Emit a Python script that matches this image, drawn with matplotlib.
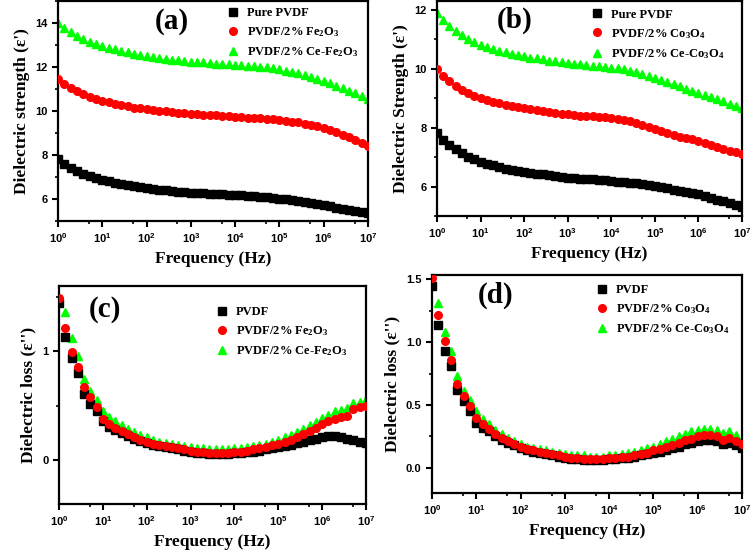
import numpy as np
import matplotlib
matplotlib.use('Agg')
import matplotlib.pyplot as plt
from matplotlib.ticker import LogLocator, MultipleLocator, FormatStrFormatter

# measurement sweep: 7 points per decade, 1 Hz .. 10 MHz
freq = np.logspace(0, 7, 50)

# (a) dielectric strength, Fe2O3 series
a_pvdf = [7.80, 7.58, 7.42, 7.28, 7.15, 7.05, 6.95, 6.87,
          6.80, 6.74, 6.68, 6.63, 6.58, 6.54, 6.50,
          6.46, 6.43, 6.40, 6.37, 6.34, 6.31, 6.28,
          6.27, 6.25, 6.24, 6.22, 6.21, 6.19, 6.17,
          6.16, 6.14, 6.12, 6.10, 6.08, 6.05, 6.02,
          5.99, 5.96, 5.92, 5.88, 5.83, 5.78, 5.72,
          5.66, 5.61, 5.56, 5.51, 5.46, 5.41, 5.36]
a_fe = [11.45, 11.22, 11.05, 10.90, 10.77, 10.65, 10.55, 10.46,
        10.39, 10.32, 10.26, 10.21, 10.16, 10.12, 10.08,
        10.05, 10.02, 9.99, 9.96, 9.93, 9.91, 9.88,
        9.86, 9.84, 9.82, 9.80, 9.78, 9.76, 9.74,
        9.72, 9.70, 9.68, 9.66, 9.64, 9.62, 9.59,
        9.56, 9.52, 9.48, 9.43, 9.38, 9.31, 9.24,
        9.14, 9.03, 8.92, 8.80, 8.67, 8.54, 8.40]
a_cefe = [14.00, 13.78, 13.58, 13.42, 13.28, 13.16, 13.06, 12.97,
          12.88, 12.80, 12.73, 12.67, 12.61, 12.55, 12.50,
          12.46, 12.42, 12.38, 12.34, 12.31, 12.28, 12.25,
          12.23, 12.21, 12.19, 12.16, 12.14, 12.12, 12.10,
          12.08, 12.06, 12.04, 12.01, 11.98, 11.94, 11.90,
          11.84, 11.78, 11.71, 11.64, 11.56, 11.47, 11.37,
          11.26, 11.15, 11.03, 10.92, 10.80, 10.68, 10.56]

# (b) dielectric strength, Co3O4 series
b_pvdf = [7.83, 7.58, 7.40, 7.26, 7.13, 7.02, 6.93, 6.85,
          6.78, 6.72, 6.66, 6.61, 6.57, 6.53, 6.50,
          6.47, 6.44, 6.41, 6.38, 6.35, 6.32, 6.30,
          6.28, 6.27, 6.25, 6.24, 6.22, 6.21, 6.19,
          6.17, 6.15, 6.13, 6.11, 6.09, 6.06, 6.02,
          5.98, 5.94, 5.90, 5.86, 5.82, 5.78, 5.74,
          5.68, 5.62, 5.56, 5.50, 5.44, 5.38, 5.32]
b_co = [10.00, 9.77, 9.57, 9.42, 9.29, 9.18, 9.09, 9.01,
        8.94, 8.88, 8.83, 8.78, 8.74, 8.70, 8.67,
        8.63, 8.60, 8.57, 8.54, 8.51, 8.48, 8.45,
        8.43, 8.41, 8.40, 8.38, 8.36, 8.35, 8.33,
        8.30, 8.27, 8.22, 8.15, 8.08, 8.01, 7.94,
        7.88, 7.82, 7.76, 7.70, 7.65, 7.60, 7.54,
        7.48, 7.42, 7.35, 7.29, 7.22, 7.16, 7.09]
b_ceco = [11.88, 11.64, 11.45, 11.29, 11.15, 11.02, 10.91, 10.81,
          10.74, 10.67, 10.61, 10.56, 10.51, 10.46, 10.42,
          10.38, 10.35, 10.32, 10.28, 10.25, 10.22, 10.19,
          10.17, 10.15, 10.12, 10.10, 10.08, 10.05, 10.03,
          10.01, 9.98, 9.94, 9.88, 9.82, 9.75, 9.69,
          9.62, 9.55, 9.48, 9.40, 9.33, 9.26, 9.18,
          9.11, 9.04, 8.96, 8.89, 8.82, 8.74, 8.67]

# (c) dielectric loss, Fe2O3 series
c_pvdf = [1.44, 1.13, 0.94, 0.80, 0.61, 0.52, 0.45, 0.36,
          0.31, 0.28, 0.25, 0.22, 0.20, 0.18, 0.16,
          0.14, 0.13, 0.12, 0.11, 0.10, 0.09, 0.08,
          0.07, 0.07, 0.06, 0.06, 0.06, 0.06, 0.07,
          0.07, 0.08, 0.08, 0.09, 0.10, 0.11, 0.12,
          0.13, 0.14, 0.16, 0.17, 0.19, 0.20, 0.21,
          0.22, 0.22, 0.21, 0.20, 0.19, 0.17, 0.16]
c_fe = [1.49, 1.21, 0.99, 0.86, 0.67, 0.58, 0.49, 0.38,
        0.33, 0.30, 0.27, 0.24, 0.21, 0.19, 0.17,
        0.15, 0.14, 0.13, 0.12, 0.11, 0.10, 0.09,
        0.08, 0.08, 0.07, 0.07, 0.07, 0.07, 0.08,
        0.08, 0.09, 0.10, 0.11, 0.12, 0.14, 0.15,
        0.17, 0.19, 0.21, 0.24, 0.27, 0.30, 0.33,
        0.36, 0.38, 0.40, 0.41, 0.47, 0.49, 0.50]
c_cefe = [1.46, 1.36, 1.12, 0.96, 0.75, 0.64, 0.55, 0.45,
          0.40, 0.36, 0.32, 0.29, 0.26, 0.23, 0.21,
          0.19, 0.17, 0.16, 0.15, 0.14, 0.13, 0.12,
          0.11, 0.11, 0.10, 0.10, 0.10, 0.10, 0.11,
          0.11, 0.12, 0.13, 0.14, 0.15, 0.17, 0.19,
          0.21, 0.23, 0.26, 0.29, 0.32, 0.35, 0.39,
          0.42, 0.45, 0.46, 0.48, 0.53, 0.54, 0.56]

# (d) dielectric loss, Co3O4 series
d_pvdf = [1.45, 1.14, 0.93, 0.81, 0.62, 0.53, 0.45, 0.36,
          0.32, 0.29, 0.25, 0.22, 0.20, 0.18, 0.16,
          0.14, 0.13, 0.12, 0.11, 0.10, 0.09, 0.08,
          0.07, 0.07, 0.06, 0.06, 0.06, 0.06, 0.07,
          0.07, 0.08, 0.08, 0.09, 0.10, 0.11, 0.12,
          0.13, 0.14, 0.16, 0.17, 0.19, 0.20, 0.21,
          0.22, 0.22, 0.21, 0.19, 0.20, 0.18, 0.16]
d_co = [1.51, 1.22, 1.01, 0.86, 0.67, 0.57, 0.49, 0.40,
        0.35, 0.31, 0.27, 0.24, 0.21, 0.19, 0.17,
        0.15, 0.14, 0.13, 0.12, 0.11, 0.10, 0.09,
        0.08, 0.08, 0.07, 0.07, 0.07, 0.07, 0.08,
        0.08, 0.09, 0.09, 0.10, 0.11, 0.12, 0.14,
        0.15, 0.17, 0.18, 0.20, 0.22, 0.23, 0.25,
        0.26, 0.26, 0.25, 0.22, 0.24, 0.21, 0.19]
d_ceco = [1.48, 1.31, 1.08, 0.93, 0.73, 0.61, 0.54, 0.45,
          0.39, 0.35, 0.30, 0.27, 0.24, 0.21, 0.19,
          0.17, 0.16, 0.15, 0.14, 0.13, 0.12, 0.11,
          0.10, 0.10, 0.10, 0.09, 0.09, 0.09, 0.10,
          0.10, 0.11, 0.12, 0.13, 0.14, 0.16, 0.17,
          0.19, 0.21, 0.23, 0.25, 0.27, 0.29, 0.30,
          0.31, 0.31, 0.30, 0.28, 0.29, 0.26, 0.23]

labels_a = ['Pure PVDF', 'PVDF/2% Fe$_2$O$_3$', 'PVDF/2% Ce-Fe$_2$O$_3$']
labels_b = ['Pure PVDF', 'PVDF/2% Co$_3$O$_4$', 'PVDF/2% Ce-Co$_3$O$_4$']
labels_c = ['PVDF', 'PVDF/2% Fe$_2$O$_3$', 'PVDF/2% Ce-Fe$_2$O$_3$']
labels_d = ['PVDF', 'PVDF/2% Co$_3$O$_4$', 'PVDF/2% Ce-Co$_3$O$_4$']

SERIF = 'Liberation Serif'
SANS = 'Liberation Sans'


def style_axis(ax, ylim, ymajor, yfmt):
    ax.set_xscale('log')
    ax.set_xlim(1, 1e7)
    ax.set_ylim(*ylim)
    ax.xaxis.set_major_locator(LogLocator(base=10, numticks=10))
    ax.xaxis.set_minor_locator(LogLocator(base=10, subs=[5], numticks=10))
    ax.yaxis.set_major_locator(MultipleLocator(ymajor))
    ax.yaxis.set_minor_locator(MultipleLocator(ymajor / 2))
    ax.yaxis.set_major_formatter(FormatStrFormatter(yfmt))
    for s in ax.spines.values():
        s.set_linewidth(1.6)
    ax.tick_params(which='major', direction='out', length=4, width=1.5,
                   labelsize=8, top=False, right=False)
    ax.tick_params(which='minor', direction='out', length=2.5, width=1.2,
                   top=False, right=False)
    for lab in ax.get_xticklabels() + ax.get_yticklabels():
        lab.set_fontfamily(SANS)
        lab.set_fontweight('bold')


def draw_panel(fig, rect, ys, labels, ylim, ymajor, yfmt, ylabel, tag, tagpos, legpos):
    ax = fig.add_axes(rect)
    h1, = ax.plot(freq, ys[0], 's', color='black', ms=5.2, zorder=3, label=labels[0])
    h2, = ax.plot(freq, ys[1], 'o', color='#ff0000', ms=5.5, zorder=4, label=labels[1])
    h3, = ax.plot(freq, ys[2], '^', color='#00ff00', ms=6, zorder=2, label=labels[2])
    style_axis(ax, ylim, ymajor, yfmt)
    ax.set_xlabel('Frequency (Hz)', fontsize=12.5, fontweight='bold', family=SERIF)
    ax.set_ylabel(ylabel, fontsize=12.5, fontweight='bold', family=SERIF)
    ax.text(tagpos[0], tagpos[1], tag, transform=ax.transAxes, ha='center', va='center',
            fontsize=21, fontweight='bold', family=SERIF)
    ax.legend(handles=[h1, h2, h3], loc='upper left', bbox_to_anchor=legpos,
              frameon=False, borderaxespad=0, borderpad=0, handlelength=1.0,
              handletextpad=0.6, labelspacing=0.5,
              prop={'family': SERIF, 'weight': 'bold', 'size': 9})
    return ax


def main():
    plt.rcParams['mathtext.default'] = 'regular'
    fig = plt.figure(figsize=(7.5, 5.54), dpi=100)

    draw_panel(fig, [0.0773, 0.6011, 0.4133, 0.397], [a_pvdf, a_fe, a_cefe], labels_a,
               (5, 15), 2, '%d', "Dielectric strength (ε')", '(a)', (0.368, 0.905),
               (0.545, 0.972))
    draw_panel(fig, [0.5827, 0.6101, 0.4067, 0.388], [b_pvdf, b_co, b_ceco], labels_b,
               (5, 12.3), 2, '%d', "Dielectric Strength (ε')", '(b)', (0.256, 0.91),
               (0.505, 0.965))
    draw_panel(fig, [0.0787, 0.0903, 0.4093, 0.3935], [c_pvdf, c_fe, c_cefe], labels_c,
               (-0.4, 1.6), 1, '%d', "Dielectric loss (ε'')", '(c)', (0.15, 0.894),
               (0.51, 0.908))
    draw_panel(fig, [0.576, 0.1101, 0.4133, 0.3935], [d_pvdf, d_co, d_ceco], labels_d,
               (-0.2, 1.535), 0.5, '%.1f', "Dielectric loss (ε'')", '(d)', (0.206, 0.908),
               (0.528, 0.958))

    fig.savefig('out.png', dpi=100)
    print("Figure saved to: out.png")


if __name__ == '__main__':
    main()
